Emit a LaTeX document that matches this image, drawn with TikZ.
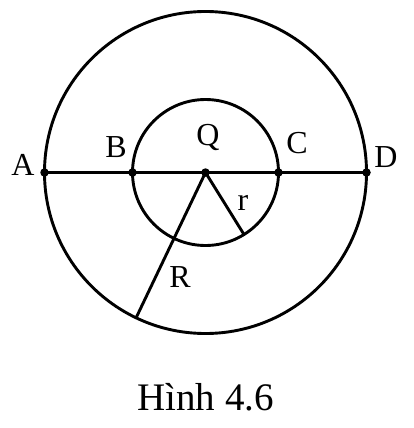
\documentclass[tikz,border=0pt]{standalone}
\usepackage{fontspec}
\setmainfont{Liberation Serif}
\begin{document}
\begin{tikzpicture}[x=1pt,y=-1pt,
  ln/.style={line width=2.9pt,black},
  pt/.style={circle,fill=black,inner sep=0pt,minimum size=8.5pt},
  lab/.style={font=\fontsize{32}{33}\selectfont,inner sep=0pt}]
\useasboundingbox (0,0) rectangle (413,428);
\coordinate (Q) at (205.5,172.5);
\draw[ln] (Q) circle[radius=161pt];
\draw[ln] (Q) circle[radius=73pt];
\node[pt] (a) at (44.5,172.5) {};
\node[pt] (b) at (132.5,172.5) {};
\node[pt] (q) at (Q) {};
\node[pt] (c) at (278.5,172.5) {};
\node[pt] (d) at (366.5,172.5) {};
\draw[ln] (a.center) -- (d.center);
\coordinate (Rend) at (136,318);
\coordinate (rend) at (244,234.5);
\draw[ln] (q.center) -- (Rend);
\draw[ln] (q.center) -- (rend);
\node[lab] at (23,165) {A};
\node[lab] at (116,147) {B};
\node[lab] at (208,137) {Q};
\node[lab] at (297,143) {C};
\node[lab] at (386,157) {D};
\node[lab] at (243,203) {r};
\node[lab] at (180,277) {R};
\node[font=\fontsize{39}{40}\selectfont,inner sep=0pt] at (205.5,397) {Hình 4.6};
\end{tikzpicture}
\end{document}
